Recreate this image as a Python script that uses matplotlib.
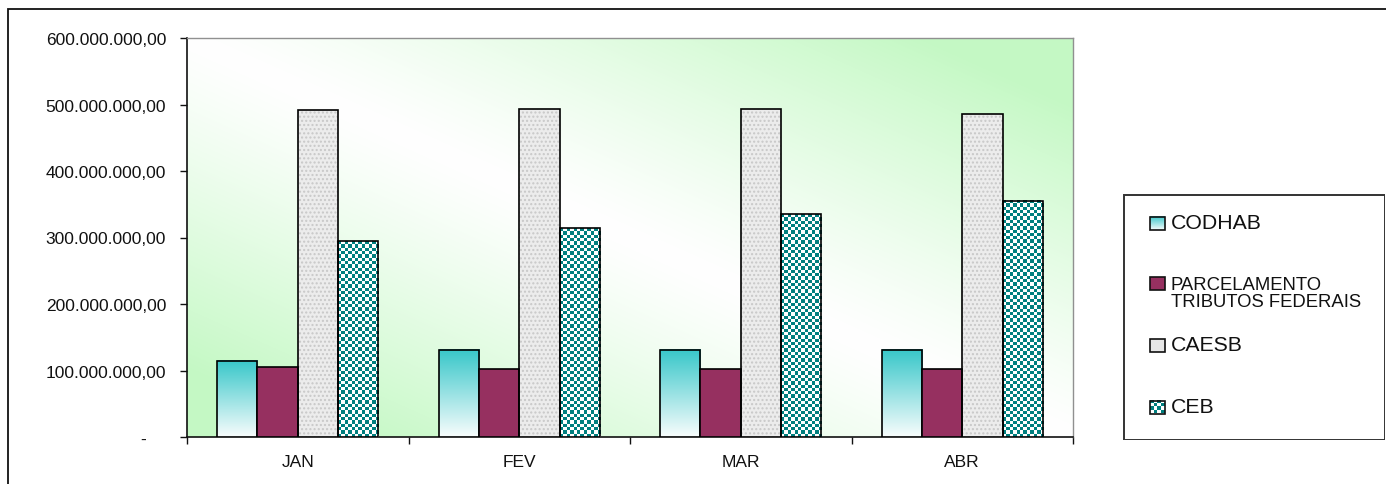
import numpy as np
import matplotlib
matplotlib.use("Agg")
import matplotlib.pyplot as plt
from matplotlib.patches import Rectangle
from matplotlib.ticker import FixedLocator, FuncFormatter

plt.rcParams["font.family"] = ["Liberation Sans", "DejaVu Sans"]

# ---- data ----
months = ["JAN", "FEV", "MAR", "ABR"]
series = ["CODHAB", "PARCELAMENTO\nTRIBUTOS FEDERAIS", "CAESB", "CEB"]
codhab = [115e6, 131e6, 131e6, 131e6]
parcelamento = [106e6, 103e6, 103e6, 103e6]
caesb = [491e6, 493e6, 493e6, 485e6]
ceb = [294e6, 314e6, 335e6, 355e6]
yticks = [0, 100e6, 200e6, 300e6, 400e6, 500e6, 600e6]

W, H = 1386, 485
PLUM = "#963060"
CYAN = np.array([0.22, 0.78, 0.79])
GREEN = np.array([0.77, 0.975, 0.77])


def br_label(v, pos=None):
    # brazilian number format, zero shown as a dash like Excel accounting
    if v == 0:
        return "-    "
    s = f"{int(round(v)):,}".replace(",", ".")
    return s + ",00"


def gradient_img(n=64):
    t = np.linspace(0, 1, n)[:, None]  # row 0 = top
    top, bot = CYAN, np.array([0.97, 0.99, 0.99])
    return (top * (1 - t) + bot * t)[:, None, :].repeat(2, axis=1)


def checker_img(rows, cols):
    i, j = np.indices((rows, cols))
    m = ((i + j) % 2).astype(float)[..., None]
    teal = np.array([0.0, 0.5, 0.5])
    return teal * (1 - m) + np.ones(3) * m


fig = plt.figure(figsize=(W / 100, H / 100), dpi=100)
fig.patch.set_facecolor("white")

# outer frame
fig.patches.append(Rectangle((8 / W, -0.05), 1.1, (H - 10) / H + 0.05,
                             transform=fig.transFigure, fill=False,
                             edgecolor="#111111", linewidth=1.3))

px0, px1, py0, py1 = 187, 1073, 39, 438
ax = fig.add_axes([px0 / W, (H - py1) / H, (px1 - px0) / W, (py1 - py0) / H])
ax.set_xlim(-0.5, 3.5)
ax.set_ylim(0, 600e6)

# diagonal green-white-green background
u = np.linspace(0, 1, 400)[None, :]
v = np.linspace(1, 0, 200)[:, None]
d = np.clip(np.abs(u + v - 1) * 1.2, 0, 1) ** 1.2
bg = np.ones(3) * (1 - d[..., None]) + GREEN * d[..., None]
ax.imshow(bg, extent=(-0.5, 3.5, 0, 600e6), aspect="auto", zorder=0,
          interpolation="bilinear")

x = np.arange(len(months))
bw = 1 / 5.5
offs = np.array([-1.5, -0.5, 0.5, 1.5]) * bw

b1 = ax.bar(x + offs[0], codhab, bw, facecolor="none", edgecolor="black", linewidth=1.2, zorder=4)
b2 = ax.bar(x + offs[1], parcelamento, bw, facecolor=PLUM, edgecolor="black", linewidth=1.2, zorder=4)
ax.bar(x + offs[2], caesb, bw, facecolor="#ececec", edgecolor="#c8c8c8", hatch="....",
       linewidth=0, zorder=3)
b3 = ax.bar(x + offs[2], caesb, bw, facecolor="none", edgecolor="black", linewidth=1.2, zorder=4)
b4 = ax.bar(x + offs[3], ceb, bw, facecolor="none", edgecolor="black", linewidth=1.2, zorder=4)

ppx = (px1 - px0) / 4.0  # pixels per category
ppy = (py1 - py0) / 600e6
for r in b1:
    ax.imshow(gradient_img(), extent=(r.get_x(), r.get_x() + r.get_width(), 0, r.get_height()),
              aspect="auto", zorder=3, interpolation="bilinear")
for r in b4:
    cols = max(1, int(round(r.get_width() * ppx / 3.3)))
    rows = max(1, int(round(r.get_height() * ppy / 3.3)))
    ax.imshow(checker_img(rows, cols), extent=(r.get_x(), r.get_x() + r.get_width(), 0, r.get_height()),
              aspect="auto", zorder=3, interpolation="nearest")
ax.set_xlim(-0.5, 3.5)
ax.set_ylim(0, 600e6)

# axes styling
for s in ["top", "right"]:
    ax.spines[s].set_color("#909090")
    ax.spines[s].set_linewidth(1.0)
for s in ["left", "bottom"]:
    ax.spines[s].set_color("#111111")
    ax.spines[s].set_linewidth(1.2)
ax.yaxis.set_major_locator(FixedLocator(yticks))
ax.yaxis.set_major_formatter(FuncFormatter(br_label))
ax.tick_params(axis="y", direction="out", length=5, width=1, pad=10, labelsize=12.5, colors="#111111")
ax.set_xticks(x)
ax.set_xticklabels(months)
ax.tick_params(axis="x", which="major", length=0, pad=12, labelsize=12.5, colors="#111111")
ax.set_xticks(np.arange(-0.5, 4.0, 1.0), minor=True)
ax.tick_params(axis="x", which="minor", direction="out", length=5, width=1, color="#111111")

# ---- legend (drawn in pixel coordinates) ----
lx0, lx1, ly0, ly1 = 1123, 1385, 195, 441
lax = fig.add_axes([lx0 / W, (H - ly1) / H, (lx1 - lx0) / W, (ly1 - ly0) / H])
lax.axis("off")
lax.add_patch(Rectangle((lx0 + 0.5, ly0 + 0.5), lx1 - lx0 - 1, ly1 - ly0 - 1, fill=False,
                        edgecolor="#333333", linewidth=1.4))
mx0, mw, mh = 1150, 15, 13
entry_y = [224, 294, 346, 408]
entry_fs = [15.3, 13.3, 15.3, 15.3]
for k, (name, yc, fs) in enumerate(zip(series, entry_y, entry_fs)):
    myc = yc if k != 1 else 284
    ext = (mx0, mx0 + mw, myc + mh / 2, myc - mh / 2)
    if k == 0:
        lax.imshow(gradient_img(), extent=ext, aspect="auto", interpolation="bilinear", zorder=2)
        face = "none"
    elif k == 1:
        face = PLUM
    elif k == 2:
        face = "#e6e6e6"
    else:
        lax.imshow(checker_img(4, 4), extent=ext, aspect="auto", interpolation="nearest", zorder=2)
        face = "none"
    lax.add_patch(Rectangle((mx0, myc - mh / 2), mw, mh, facecolor=face,
                            edgecolor="#111111", linewidth=1.2, zorder=3))
    lax.text(mx0 + mw + 6, yc, name, fontsize=fs, va="center", ha="left",
             color="#111111", linespacing=0.95)
lax.set_xlim(lx0, lx1)
lax.set_ylim(ly1, ly0)

fig.savefig("out.png", dpi=100)
